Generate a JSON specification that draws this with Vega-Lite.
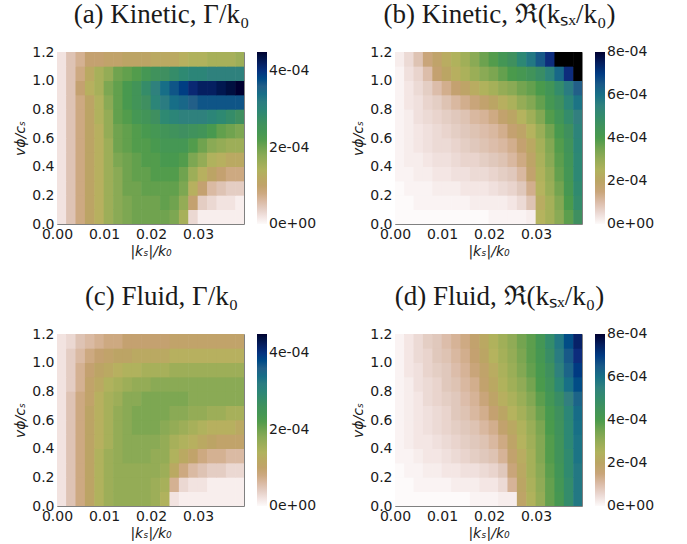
{"$schema":"https://vega.github.io/schema/vega-lite/v6.json","padding":{"left":13,"top":0,"right":0,"bottom":0},"background":"white","spacing":23,"resolve":{"scale":{"color":"independent"},"legend":{"color":"independent"}},
"config":{"view":{"stroke":"#808080","strokeWidth":1},"axis":{"grid":false,"domain":false,"ticks":false,"labelFont":"DejaVu Sans","labelFontSize":14,"labelColor":"#1a1a1a","titleFont":"DejaVu Sans","titleFontSize":14,"titleFontWeight":"normal","titleFontStyle":"italic","titleColor":"#1a1a1a","labelOverlap":false,"labelFlush":false},"legend":{"labelFont":"DejaVu Sans","labelFontSize":14,"labelColor":"#1a1a1a"},"title":{"font":"Liberation Serif","fontSize":27,"fontWeight":"normal","color":"#1a1a1a","anchor":"middle","dx":11,"offset":16}},
"datasets":{
"a":[
{"x":0.001,"y":0.05,"z":2e-5},{"x":0.003,"y":0.05,"z":5e-5},{"x":0.005,"y":0.05,"z":8e-5},{"x":0.007,"y":0.05,"z":11e-5},{"x":0.009,"y":0.05,"z":13e-5},{"x":0.011,"y":0.05,"z":16e-5},{"x":0.013,"y":0.05,"z":18e-5},{"x":0.015,"y":0.05,"z":19e-5},{"x":0.017,"y":0.05,"z":20e-5},{"x":0.019,"y":0.05,"z":20e-5},{"x":0.021,"y":0.05,"z":20e-5},{"x":0.023,"y":0.05,"z":20e-5},{"x":0.025,"y":0.05,"z":19e-5},{"x":0.027,"y":0.05,"z":15e-5},{"x":0.029,"y":0.05,"z":3e-5},{"x":0.031,"y":0.05,"z":1e-5},{"x":0.033,"y":0.05,"z":1e-5},{"x":0.035,"y":0.05,"z":1e-5},{"x":0.037,"y":0.05,"z":1e-5},{"x":0.039,"y":0.05,"z":1e-5},
{"x":0.001,"y":0.15,"z":2e-5},{"x":0.003,"y":0.15,"z":5e-5},{"x":0.005,"y":0.15,"z":8e-5},{"x":0.007,"y":0.15,"z":11e-5},{"x":0.009,"y":0.15,"z":13e-5},{"x":0.011,"y":0.15,"z":16e-5},{"x":0.013,"y":0.15,"z":18e-5},{"x":0.015,"y":0.15,"z":19e-5},{"x":0.017,"y":0.15,"z":20e-5},{"x":0.019,"y":0.15,"z":20e-5},{"x":0.021,"y":0.15,"z":20e-5},{"x":0.023,"y":0.15,"z":21e-5},{"x":0.025,"y":0.15,"z":20e-5},{"x":0.027,"y":0.15,"z":17e-5},{"x":0.029,"y":0.15,"z":9e-5},{"x":0.031,"y":0.15,"z":4e-5},{"x":0.033,"y":0.15,"z":3e-5},{"x":0.035,"y":0.15,"z":2e-5},{"x":0.037,"y":0.15,"z":2e-5},{"x":0.039,"y":0.15,"z":1e-5},
{"x":0.001,"y":0.25,"z":2e-5},{"x":0.003,"y":0.25,"z":5e-5},{"x":0.005,"y":0.25,"z":8e-5},{"x":0.007,"y":0.25,"z":11e-5},{"x":0.009,"y":0.25,"z":13e-5},{"x":0.011,"y":0.25,"z":16e-5},{"x":0.013,"y":0.25,"z":18e-5},{"x":0.015,"y":0.25,"z":20e-5},{"x":0.017,"y":0.25,"z":20e-5},{"x":0.019,"y":0.25,"z":21e-5},{"x":0.021,"y":0.25,"z":21e-5},{"x":0.023,"y":0.25,"z":21e-5},{"x":0.025,"y":0.25,"z":21e-5},{"x":0.027,"y":0.25,"z":19e-5},{"x":0.029,"y":0.25,"z":13e-5},{"x":0.031,"y":0.25,"z":9e-5},{"x":0.033,"y":0.25,"z":6e-5},{"x":0.035,"y":0.25,"z":5e-5},{"x":0.037,"y":0.25,"z":4e-5},{"x":0.039,"y":0.25,"z":4e-5},
{"x":0.001,"y":0.35,"z":2e-5},{"x":0.003,"y":0.35,"z":5e-5},{"x":0.005,"y":0.35,"z":8e-5},{"x":0.007,"y":0.35,"z":11e-5},{"x":0.009,"y":0.35,"z":13e-5},{"x":0.011,"y":0.35,"z":16e-5},{"x":0.013,"y":0.35,"z":18e-5},{"x":0.015,"y":0.35,"z":20e-5},{"x":0.017,"y":0.35,"z":21e-5},{"x":0.019,"y":0.35,"z":21e-5},{"x":0.021,"y":0.35,"z":22e-5},{"x":0.023,"y":0.35,"z":22e-5},{"x":0.025,"y":0.35,"z":22e-5},{"x":0.027,"y":0.35,"z":20e-5},{"x":0.029,"y":0.35,"z":16e-5},{"x":0.031,"y":0.35,"z":13e-5},{"x":0.033,"y":0.35,"z":11e-5},{"x":0.035,"y":0.35,"z":9e-5},{"x":0.037,"y":0.35,"z":8e-5},{"x":0.039,"y":0.35,"z":8e-5},
{"x":0.001,"y":0.45,"z":2e-5},{"x":0.003,"y":0.45,"z":5e-5},{"x":0.005,"y":0.45,"z":8e-5},{"x":0.007,"y":0.45,"z":11e-5},{"x":0.009,"y":0.45,"z":13e-5},{"x":0.011,"y":0.45,"z":16e-5},{"x":0.013,"y":0.45,"z":19e-5},{"x":0.015,"y":0.45,"z":20e-5},{"x":0.017,"y":0.45,"z":21e-5},{"x":0.019,"y":0.45,"z":22e-5},{"x":0.021,"y":0.45,"z":22e-5},{"x":0.023,"y":0.45,"z":23e-5},{"x":0.025,"y":0.45,"z":23e-5},{"x":0.027,"y":0.45,"z":22e-5},{"x":0.029,"y":0.45,"z":19e-5},{"x":0.031,"y":0.45,"z":17e-5},{"x":0.033,"y":0.45,"z":14e-5},{"x":0.035,"y":0.45,"z":13e-5},{"x":0.037,"y":0.45,"z":12e-5},{"x":0.039,"y":0.45,"z":12e-5},
{"x":0.001,"y":0.55,"z":2e-5},{"x":0.003,"y":0.55,"z":5e-5},{"x":0.005,"y":0.55,"z":8e-5},{"x":0.007,"y":0.55,"z":11e-5},{"x":0.009,"y":0.55,"z":13e-5},{"x":0.011,"y":0.55,"z":16e-5},{"x":0.013,"y":0.55,"z":20e-5},{"x":0.015,"y":0.55,"z":21e-5},{"x":0.017,"y":0.55,"z":22e-5},{"x":0.019,"y":0.55,"z":22e-5},{"x":0.021,"y":0.55,"z":23e-5},{"x":0.023,"y":0.55,"z":24e-5},{"x":0.025,"y":0.55,"z":24e-5},{"x":0.027,"y":0.55,"z":24e-5},{"x":0.029,"y":0.55,"z":22e-5},{"x":0.031,"y":0.55,"z":20e-5},{"x":0.033,"y":0.55,"z":18e-5},{"x":0.035,"y":0.55,"z":17e-5},{"x":0.037,"y":0.55,"z":16e-5},{"x":0.039,"y":0.55,"z":16e-5},
{"x":0.001,"y":0.65,"z":2e-5},{"x":0.003,"y":0.65,"z":5e-5},{"x":0.005,"y":0.65,"z":8e-5},{"x":0.007,"y":0.65,"z":11e-5},{"x":0.009,"y":0.65,"z":13e-5},{"x":0.011,"y":0.65,"z":17e-5},{"x":0.013,"y":0.65,"z":20e-5},{"x":0.015,"y":0.65,"z":21e-5},{"x":0.017,"y":0.65,"z":22e-5},{"x":0.019,"y":0.65,"z":23e-5},{"x":0.021,"y":0.65,"z":24e-5},{"x":0.023,"y":0.65,"z":25e-5},{"x":0.025,"y":0.65,"z":26e-5},{"x":0.027,"y":0.65,"z":27e-5},{"x":0.029,"y":0.65,"z":26e-5},{"x":0.031,"y":0.65,"z":25e-5},{"x":0.033,"y":0.65,"z":23e-5},{"x":0.035,"y":0.65,"z":21e-5},{"x":0.037,"y":0.65,"z":20e-5},{"x":0.039,"y":0.65,"z":19e-5},
{"x":0.001,"y":0.75,"z":2e-5},{"x":0.003,"y":0.75,"z":5e-5},{"x":0.005,"y":0.75,"z":8e-5},{"x":0.007,"y":0.75,"z":11e-5},{"x":0.009,"y":0.75,"z":14e-5},{"x":0.011,"y":0.75,"z":17e-5},{"x":0.013,"y":0.75,"z":21e-5},{"x":0.015,"y":0.75,"z":22e-5},{"x":0.017,"y":0.75,"z":24e-5},{"x":0.019,"y":0.75,"z":25e-5},{"x":0.021,"y":0.75,"z":27e-5},{"x":0.023,"y":0.75,"z":29e-5},{"x":0.025,"y":0.75,"z":30e-5},{"x":0.027,"y":0.75,"z":31e-5},{"x":0.029,"y":0.75,"z":31e-5},{"x":0.031,"y":0.75,"z":31e-5},{"x":0.033,"y":0.75,"z":30e-5},{"x":0.035,"y":0.75,"z":29e-5},{"x":0.037,"y":0.75,"z":28e-5},{"x":0.039,"y":0.75,"z":27e-5},
{"x":0.001,"y":0.85,"z":2e-5},{"x":0.003,"y":0.85,"z":5e-5},{"x":0.005,"y":0.85,"z":8e-5},{"x":0.007,"y":0.85,"z":11e-5},{"x":0.009,"y":0.85,"z":14e-5},{"x":0.011,"y":0.85,"z":18e-5},{"x":0.013,"y":0.85,"z":21e-5},{"x":0.015,"y":0.85,"z":23e-5},{"x":0.017,"y":0.85,"z":25e-5},{"x":0.019,"y":0.85,"z":27e-5},{"x":0.021,"y":0.85,"z":30e-5},{"x":0.023,"y":0.85,"z":32e-5},{"x":0.025,"y":0.85,"z":34e-5},{"x":0.027,"y":0.85,"z":35e-5},{"x":0.029,"y":0.85,"z":36e-5},{"x":0.031,"y":0.85,"z":37e-5},{"x":0.033,"y":0.85,"z":37e-5},{"x":0.035,"y":0.85,"z":37e-5},{"x":0.037,"y":0.85,"z":37e-5},{"x":0.039,"y":0.85,"z":37e-5},
{"x":0.001,"y":0.95,"z":2e-5},{"x":0.003,"y":0.95,"z":5e-5},{"x":0.005,"y":0.95,"z":9e-5},{"x":0.007,"y":0.95,"z":13e-5},{"x":0.009,"y":0.95,"z":15e-5},{"x":0.011,"y":0.95,"z":19e-5},{"x":0.013,"y":0.95,"z":21e-5},{"x":0.015,"y":0.95,"z":23e-5},{"x":0.017,"y":0.95,"z":25e-5},{"x":0.019,"y":0.95,"z":28e-5},{"x":0.021,"y":0.95,"z":31e-5},{"x":0.023,"y":0.95,"z":34e-5},{"x":0.025,"y":0.95,"z":37e-5},{"x":0.027,"y":0.95,"z":39e-5},{"x":0.029,"y":0.95,"z":41e-5},{"x":0.031,"y":0.95,"z":42e-5},{"x":0.033,"y":0.95,"z":42e-5},{"x":0.035,"y":0.95,"z":43e-5},{"x":0.037,"y":0.95,"z":44e-5},{"x":0.039,"y":0.95,"z":45e-5},
{"x":0.001,"y":1.05,"z":2e-5},{"x":0.003,"y":1.05,"z":5e-5},{"x":0.005,"y":1.05,"z":8e-5},{"x":0.007,"y":1.05,"z":12e-5},{"x":0.009,"y":1.05,"z":15e-5},{"x":0.011,"y":1.05,"z":17e-5},{"x":0.013,"y":1.05,"z":20e-5},{"x":0.015,"y":1.05,"z":21e-5},{"x":0.017,"y":1.05,"z":22e-5},{"x":0.019,"y":1.05,"z":24e-5},{"x":0.021,"y":1.05,"z":26e-5},{"x":0.023,"y":1.05,"z":27e-5},{"x":0.025,"y":1.05,"z":28e-5},{"x":0.027,"y":1.05,"z":29e-5},{"x":0.029,"y":1.05,"z":30e-5},{"x":0.031,"y":1.05,"z":30e-5},{"x":0.033,"y":1.05,"z":31e-5},{"x":0.035,"y":1.05,"z":31e-5},{"x":0.037,"y":1.05,"z":31e-5},{"x":0.039,"y":1.05,"z":31e-5},
{"x":0.001,"y":1.15,"z":2e-5},{"x":0.003,"y":1.15,"z":5e-5},{"x":0.005,"y":1.15,"z":7e-5},{"x":0.007,"y":1.15,"z":9e-5},{"x":0.009,"y":1.15,"z":9e-5},{"x":0.011,"y":1.15,"z":10e-5},{"x":0.013,"y":1.15,"z":10e-5},{"x":0.015,"y":1.15,"z":11e-5},{"x":0.017,"y":1.15,"z":11e-5},{"x":0.019,"y":1.15,"z":11e-5},{"x":0.021,"y":1.15,"z":12e-5},{"x":0.023,"y":1.15,"z":12e-5},{"x":0.025,"y":1.15,"z":12e-5},{"x":0.027,"y":1.15,"z":13e-5},{"x":0.029,"y":1.15,"z":14e-5},{"x":0.031,"y":1.15,"z":14e-5},{"x":0.033,"y":1.15,"z":15e-5},{"x":0.035,"y":1.15,"z":15e-5},{"x":0.037,"y":1.15,"z":15e-5},{"x":0.039,"y":1.15,"z":16e-5}
],
"b":[
{"x":0.001,"y":0.05,"z":0},{"x":0.003,"y":0.05,"z":0},{"x":0.005,"y":0.05,"z":0},{"x":0.007,"y":0.05,"z":0},{"x":0.009,"y":0.05,"z":0},{"x":0.011,"y":0.05,"z":0},{"x":0.013,"y":0.05,"z":0},{"x":0.015,"y":0.05,"z":0},{"x":0.017,"y":0.05,"z":0},{"x":0.019,"y":0.05,"z":0},{"x":0.021,"y":0.05,"z":1e-5},{"x":0.023,"y":0.05,"z":1e-5},{"x":0.025,"y":0.05,"z":1e-5},{"x":0.027,"y":0.05,"z":1e-5},{"x":0.029,"y":0.05,"z":2e-5},{"x":0.031,"y":0.05,"z":24e-5},{"x":0.033,"y":0.05,"z":27e-5},{"x":0.035,"y":0.05,"z":32e-5},{"x":0.037,"y":0.05,"z":38e-5},{"x":0.039,"y":0.05,"z":48e-5},
{"x":0.001,"y":0.15,"z":0},{"x":0.003,"y":0.15,"z":0},{"x":0.005,"y":0.15,"z":1e-5},{"x":0.007,"y":0.15,"z":1e-5},{"x":0.009,"y":0.15,"z":1e-5},{"x":0.011,"y":0.15,"z":1e-5},{"x":0.013,"y":0.15,"z":1e-5},{"x":0.015,"y":0.15,"z":1e-5},{"x":0.017,"y":0.15,"z":2e-5},{"x":0.019,"y":0.15,"z":2e-5},{"x":0.021,"y":0.15,"z":2e-5},{"x":0.023,"y":0.15,"z":2e-5},{"x":0.025,"y":0.15,"z":3e-5},{"x":0.027,"y":0.15,"z":5e-5},{"x":0.029,"y":0.15,"z":9e-5},{"x":0.031,"y":0.15,"z":22e-5},{"x":0.033,"y":0.15,"z":27e-5},{"x":0.035,"y":0.15,"z":33e-5},{"x":0.037,"y":0.15,"z":40e-5},{"x":0.039,"y":0.15,"z":50e-5},
{"x":0.001,"y":0.25,"z":0},{"x":0.003,"y":0.25,"z":1e-5},{"x":0.005,"y":0.25,"z":1e-5},{"x":0.007,"y":0.25,"z":1e-5},{"x":0.009,"y":0.25,"z":2e-5},{"x":0.011,"y":0.25,"z":2e-5},{"x":0.013,"y":0.25,"z":2e-5},{"x":0.015,"y":0.25,"z":3e-5},{"x":0.017,"y":0.25,"z":3e-5},{"x":0.019,"y":0.25,"z":3e-5},{"x":0.021,"y":0.25,"z":4e-5},{"x":0.023,"y":0.25,"z":5e-5},{"x":0.025,"y":0.25,"z":6e-5},{"x":0.027,"y":0.25,"z":8e-5},{"x":0.029,"y":0.25,"z":13e-5},{"x":0.031,"y":0.25,"z":24e-5},{"x":0.033,"y":0.25,"z":29e-5},{"x":0.035,"y":0.25,"z":35e-5},{"x":0.037,"y":0.25,"z":42e-5},{"x":0.039,"y":0.25,"z":51e-5},
{"x":0.001,"y":0.35,"z":1e-5},{"x":0.003,"y":0.35,"z":1e-5},{"x":0.005,"y":0.35,"z":2e-5},{"x":0.007,"y":0.35,"z":2e-5},{"x":0.009,"y":0.35,"z":3e-5},{"x":0.011,"y":0.35,"z":3e-5},{"x":0.013,"y":0.35,"z":4e-5},{"x":0.015,"y":0.35,"z":4e-5},{"x":0.017,"y":0.35,"z":5e-5},{"x":0.019,"y":0.35,"z":5e-5},{"x":0.021,"y":0.35,"z":6e-5},{"x":0.023,"y":0.35,"z":7e-5},{"x":0.025,"y":0.35,"z":8e-5},{"x":0.027,"y":0.35,"z":11e-5},{"x":0.029,"y":0.35,"z":17e-5},{"x":0.031,"y":0.35,"z":25e-5},{"x":0.033,"y":0.35,"z":30e-5},{"x":0.035,"y":0.35,"z":37e-5},{"x":0.037,"y":0.35,"z":43e-5},{"x":0.039,"y":0.35,"z":52e-5},
{"x":0.001,"y":0.45,"z":1e-5},{"x":0.003,"y":0.45,"z":2e-5},{"x":0.005,"y":0.45,"z":2e-5},{"x":0.007,"y":0.45,"z":3e-5},{"x":0.009,"y":0.45,"z":4e-5},{"x":0.011,"y":0.45,"z":4e-5},{"x":0.013,"y":0.45,"z":5e-5},{"x":0.015,"y":0.45,"z":6e-5},{"x":0.017,"y":0.45,"z":6e-5},{"x":0.019,"y":0.45,"z":7e-5},{"x":0.021,"y":0.45,"z":8e-5},{"x":0.023,"y":0.45,"z":9e-5},{"x":0.025,"y":0.45,"z":11e-5},{"x":0.027,"y":0.45,"z":14e-5},{"x":0.029,"y":0.45,"z":19e-5},{"x":0.031,"y":0.45,"z":26e-5},{"x":0.033,"y":0.45,"z":32e-5},{"x":0.035,"y":0.45,"z":38e-5},{"x":0.037,"y":0.45,"z":44e-5},{"x":0.039,"y":0.45,"z":52e-5},
{"x":0.001,"y":0.55,"z":1e-5},{"x":0.003,"y":0.55,"z":2e-5},{"x":0.005,"y":0.55,"z":3e-5},{"x":0.007,"y":0.55,"z":4e-5},{"x":0.009,"y":0.55,"z":5e-5},{"x":0.011,"y":0.55,"z":5e-5},{"x":0.013,"y":0.55,"z":6e-5},{"x":0.015,"y":0.55,"z":7e-5},{"x":0.017,"y":0.55,"z":8e-5},{"x":0.019,"y":0.55,"z":9e-5},{"x":0.021,"y":0.55,"z":10e-5},{"x":0.023,"y":0.55,"z":11e-5},{"x":0.025,"y":0.55,"z":13e-5},{"x":0.027,"y":0.55,"z":16e-5},{"x":0.029,"y":0.55,"z":21e-5},{"x":0.031,"y":0.55,"z":27e-5},{"x":0.033,"y":0.55,"z":33e-5},{"x":0.035,"y":0.55,"z":39e-5},{"x":0.037,"y":0.55,"z":45e-5},{"x":0.039,"y":0.55,"z":53e-5},
{"x":0.001,"y":0.65,"z":1e-5},{"x":0.003,"y":0.65,"z":2e-5},{"x":0.005,"y":0.65,"z":3e-5},{"x":0.007,"y":0.65,"z":4e-5},{"x":0.009,"y":0.65,"z":5e-5},{"x":0.011,"y":0.65,"z":6e-5},{"x":0.013,"y":0.65,"z":7e-5},{"x":0.015,"y":0.65,"z":8e-5},{"x":0.017,"y":0.65,"z":9e-5},{"x":0.019,"y":0.65,"z":10e-5},{"x":0.021,"y":0.65,"z":11e-5},{"x":0.023,"y":0.65,"z":13e-5},{"x":0.025,"y":0.65,"z":16e-5},{"x":0.027,"y":0.65,"z":19e-5},{"x":0.029,"y":0.65,"z":24e-5},{"x":0.031,"y":0.65,"z":29e-5},{"x":0.033,"y":0.65,"z":35e-5},{"x":0.035,"y":0.65,"z":41e-5},{"x":0.037,"y":0.65,"z":47e-5},{"x":0.039,"y":0.65,"z":54e-5},
{"x":0.001,"y":0.75,"z":1e-5},{"x":0.003,"y":0.75,"z":2e-5},{"x":0.005,"y":0.75,"z":4e-5},{"x":0.007,"y":0.75,"z":5e-5},{"x":0.009,"y":0.75,"z":6e-5},{"x":0.011,"y":0.75,"z":7e-5},{"x":0.013,"y":0.75,"z":8e-5},{"x":0.015,"y":0.75,"z":9e-5},{"x":0.017,"y":0.75,"z":11e-5},{"x":0.019,"y":0.75,"z":12e-5},{"x":0.021,"y":0.75,"z":14e-5},{"x":0.023,"y":0.75,"z":17e-5},{"x":0.025,"y":0.75,"z":20e-5},{"x":0.027,"y":0.75,"z":24e-5},{"x":0.029,"y":0.75,"z":28e-5},{"x":0.031,"y":0.75,"z":33e-5},{"x":0.033,"y":0.75,"z":39e-5},{"x":0.035,"y":0.75,"z":44e-5},{"x":0.037,"y":0.75,"z":50e-5},{"x":0.039,"y":0.75,"z":56e-5},
{"x":0.001,"y":0.85,"z":1e-5},{"x":0.003,"y":0.85,"z":3e-5},{"x":0.005,"y":0.85,"z":4e-5},{"x":0.007,"y":0.85,"z":6e-5},{"x":0.009,"y":0.85,"z":7e-5},{"x":0.011,"y":0.85,"z":9e-5},{"x":0.013,"y":0.85,"z":11e-5},{"x":0.015,"y":0.85,"z":13e-5},{"x":0.017,"y":0.85,"z":15e-5},{"x":0.019,"y":0.85,"z":17e-5},{"x":0.021,"y":0.85,"z":20e-5},{"x":0.023,"y":0.85,"z":23e-5},{"x":0.025,"y":0.85,"z":26e-5},{"x":0.027,"y":0.85,"z":30e-5},{"x":0.029,"y":0.85,"z":33e-5},{"x":0.031,"y":0.85,"z":37e-5},{"x":0.033,"y":0.85,"z":42e-5},{"x":0.035,"y":0.85,"z":47e-5},{"x":0.037,"y":0.85,"z":53e-5},{"x":0.039,"y":0.85,"z":59e-5},
{"x":0.001,"y":0.95,"z":1e-5},{"x":0.003,"y":0.95,"z":3e-5},{"x":0.005,"y":0.95,"z":5e-5},{"x":0.007,"y":0.95,"z":7e-5},{"x":0.009,"y":0.95,"z":10e-5},{"x":0.011,"y":0.95,"z":13e-5},{"x":0.013,"y":0.95,"z":16e-5},{"x":0.015,"y":0.95,"z":19e-5},{"x":0.017,"y":0.95,"z":22e-5},{"x":0.019,"y":0.95,"z":25e-5},{"x":0.021,"y":0.95,"z":27e-5},{"x":0.023,"y":0.95,"z":30e-5},{"x":0.025,"y":0.95,"z":32e-5},{"x":0.027,"y":0.95,"z":35e-5},{"x":0.029,"y":0.95,"z":37e-5},{"x":0.031,"y":0.95,"z":40e-5},{"x":0.033,"y":0.95,"z":44e-5},{"x":0.035,"y":0.95,"z":50e-5},{"x":0.037,"y":0.95,"z":57e-5},{"x":0.039,"y":0.95,"z":64e-5},
{"x":0.001,"y":1.05,"z":1e-5},{"x":0.003,"y":1.05,"z":4e-5},{"x":0.005,"y":1.05,"z":6e-5},{"x":0.007,"y":1.05,"z":10e-5},{"x":0.009,"y":1.05,"z":16e-5},{"x":0.011,"y":1.05,"z":20e-5},{"x":0.013,"y":1.05,"z":23e-5},{"x":0.015,"y":1.05,"z":26e-5},{"x":0.017,"y":1.05,"z":29e-5},{"x":0.019,"y":1.05,"z":32e-5},{"x":0.021,"y":1.05,"z":34e-5},{"x":0.023,"y":1.05,"z":37e-5},{"x":0.025,"y":1.05,"z":40e-5},{"x":0.027,"y":1.05,"z":42e-5},{"x":0.029,"y":1.05,"z":45e-5},{"x":0.031,"y":1.05,"z":49e-5},{"x":0.033,"y":1.05,"z":54e-5},{"x":0.035,"y":1.05,"z":62e-5},{"x":0.037,"y":1.05,"z":72e-5},{"x":0.039,"y":1.05,"z":83e-5},
{"x":0.001,"y":1.15,"z":2e-5},{"x":0.003,"y":1.15,"z":5e-5},{"x":0.005,"y":1.15,"z":9e-5},{"x":0.007,"y":1.15,"z":15e-5},{"x":0.009,"y":1.15,"z":18e-5},{"x":0.011,"y":1.15,"z":22e-5},{"x":0.013,"y":1.15,"z":25e-5},{"x":0.015,"y":1.15,"z":28e-5},{"x":0.017,"y":1.15,"z":32e-5},{"x":0.019,"y":1.15,"z":36e-5},{"x":0.021,"y":1.15,"z":39e-5},{"x":0.023,"y":1.15,"z":43e-5},{"x":0.025,"y":1.15,"z":47e-5},{"x":0.027,"y":1.15,"z":52e-5},{"x":0.029,"y":1.15,"z":58e-5},{"x":0.031,"y":1.15,"z":65e-5},{"x":0.033,"y":1.15,"z":72e-5},{"x":0.035,"y":1.15,"z":85e-5},{"x":0.037,"y":1.15,"z":90e-5},{"x":0.039,"y":1.15,"z":90e-5}
],
"c":[
{"x":0.001,"y":0.05,"z":2e-5},{"x":0.003,"y":0.05,"z":5e-5},{"x":0.005,"y":0.05,"z":8e-5},{"x":0.007,"y":0.05,"z":11e-5},{"x":0.009,"y":0.05,"z":14e-5},{"x":0.011,"y":0.05,"z":16e-5},{"x":0.013,"y":0.05,"z":17e-5},{"x":0.015,"y":0.05,"z":17e-5},{"x":0.017,"y":0.05,"z":17e-5},{"x":0.019,"y":0.05,"z":17e-5},{"x":0.021,"y":0.05,"z":16e-5},{"x":0.023,"y":0.05,"z":14e-5},{"x":0.025,"y":0.05,"z":2e-5},{"x":0.027,"y":0.05,"z":1e-5},{"x":0.029,"y":0.05,"z":1e-5},{"x":0.031,"y":0.05,"z":1e-5},{"x":0.033,"y":0.05,"z":1e-5},{"x":0.035,"y":0.05,"z":1e-5},{"x":0.037,"y":0.05,"z":1e-5},{"x":0.039,"y":0.05,"z":1e-5},
{"x":0.001,"y":0.15,"z":2e-5},{"x":0.003,"y":0.15,"z":5e-5},{"x":0.005,"y":0.15,"z":8e-5},{"x":0.007,"y":0.15,"z":11e-5},{"x":0.009,"y":0.15,"z":14e-5},{"x":0.011,"y":0.15,"z":16e-5},{"x":0.013,"y":0.15,"z":17e-5},{"x":0.015,"y":0.15,"z":17e-5},{"x":0.017,"y":0.15,"z":17e-5},{"x":0.019,"y":0.15,"z":17e-5},{"x":0.021,"y":0.15,"z":16e-5},{"x":0.023,"y":0.15,"z":15e-5},{"x":0.025,"y":0.15,"z":7e-5},{"x":0.027,"y":0.15,"z":3e-5},{"x":0.029,"y":0.15,"z":2e-5},{"x":0.031,"y":0.15,"z":2e-5},{"x":0.033,"y":0.15,"z":1e-5},{"x":0.035,"y":0.15,"z":1e-5},{"x":0.037,"y":0.15,"z":1e-5},{"x":0.039,"y":0.15,"z":1e-5},
{"x":0.001,"y":0.25,"z":2e-5},{"x":0.003,"y":0.25,"z":5e-5},{"x":0.005,"y":0.25,"z":8e-5},{"x":0.007,"y":0.25,"z":11e-5},{"x":0.009,"y":0.25,"z":14e-5},{"x":0.011,"y":0.25,"z":16e-5},{"x":0.013,"y":0.25,"z":17e-5},{"x":0.015,"y":0.25,"z":17e-5},{"x":0.017,"y":0.25,"z":17e-5},{"x":0.019,"y":0.25,"z":17e-5},{"x":0.021,"y":0.25,"z":17e-5},{"x":0.023,"y":0.25,"z":16e-5},{"x":0.025,"y":0.25,"z":12e-5},{"x":0.027,"y":0.25,"z":8e-5},{"x":0.029,"y":0.25,"z":6e-5},{"x":0.031,"y":0.25,"z":5e-5},{"x":0.033,"y":0.25,"z":4e-5},{"x":0.035,"y":0.25,"z":4e-5},{"x":0.037,"y":0.25,"z":3e-5},{"x":0.039,"y":0.25,"z":3e-5},
{"x":0.001,"y":0.35,"z":2e-5},{"x":0.003,"y":0.35,"z":5e-5},{"x":0.005,"y":0.35,"z":8e-5},{"x":0.007,"y":0.35,"z":11e-5},{"x":0.009,"y":0.35,"z":14e-5},{"x":0.011,"y":0.35,"z":16e-5},{"x":0.013,"y":0.35,"z":17e-5},{"x":0.015,"y":0.35,"z":18e-5},{"x":0.017,"y":0.35,"z":18e-5},{"x":0.019,"y":0.35,"z":18e-5},{"x":0.021,"y":0.35,"z":17e-5},{"x":0.023,"y":0.35,"z":17e-5},{"x":0.025,"y":0.35,"z":14e-5},{"x":0.027,"y":0.35,"z":12e-5},{"x":0.029,"y":0.35,"z":10e-5},{"x":0.031,"y":0.35,"z":8e-5},{"x":0.033,"y":0.35,"z":7e-5},{"x":0.035,"y":0.35,"z":7e-5},{"x":0.037,"y":0.35,"z":6e-5},{"x":0.039,"y":0.35,"z":6e-5},
{"x":0.001,"y":0.45,"z":2e-5},{"x":0.003,"y":0.45,"z":5e-5},{"x":0.005,"y":0.45,"z":8e-5},{"x":0.007,"y":0.45,"z":11e-5},{"x":0.009,"y":0.45,"z":13e-5},{"x":0.011,"y":0.45,"z":15e-5},{"x":0.013,"y":0.45,"z":17e-5},{"x":0.015,"y":0.45,"z":18e-5},{"x":0.017,"y":0.45,"z":18e-5},{"x":0.019,"y":0.45,"z":18e-5},{"x":0.021,"y":0.45,"z":18e-5},{"x":0.023,"y":0.45,"z":17e-5},{"x":0.025,"y":0.45,"z":15e-5},{"x":0.027,"y":0.45,"z":14e-5},{"x":0.029,"y":0.45,"z":13e-5},{"x":0.031,"y":0.45,"z":12e-5},{"x":0.033,"y":0.45,"z":11e-5},{"x":0.035,"y":0.45,"z":10e-5},{"x":0.037,"y":0.45,"z":10e-5},{"x":0.039,"y":0.45,"z":10e-5},
{"x":0.001,"y":0.55,"z":2e-5},{"x":0.003,"y":0.55,"z":5e-5},{"x":0.005,"y":0.55,"z":8e-5},{"x":0.007,"y":0.55,"z":11e-5},{"x":0.009,"y":0.55,"z":13e-5},{"x":0.011,"y":0.55,"z":15e-5},{"x":0.013,"y":0.55,"z":17e-5},{"x":0.015,"y":0.55,"z":18e-5},{"x":0.017,"y":0.55,"z":19e-5},{"x":0.019,"y":0.55,"z":19e-5},{"x":0.021,"y":0.55,"z":19e-5},{"x":0.023,"y":0.55,"z":18e-5},{"x":0.025,"y":0.55,"z":17e-5},{"x":0.027,"y":0.55,"z":16e-5},{"x":0.029,"y":0.55,"z":15e-5},{"x":0.031,"y":0.55,"z":14e-5},{"x":0.033,"y":0.55,"z":13e-5},{"x":0.035,"y":0.55,"z":13e-5},{"x":0.037,"y":0.55,"z":13e-5},{"x":0.039,"y":0.55,"z":12e-5},
{"x":0.001,"y":0.65,"z":2e-5},{"x":0.003,"y":0.65,"z":5e-5},{"x":0.005,"y":0.65,"z":8e-5},{"x":0.007,"y":0.65,"z":11e-5},{"x":0.009,"y":0.65,"z":13e-5},{"x":0.011,"y":0.65,"z":15e-5},{"x":0.013,"y":0.65,"z":17e-5},{"x":0.015,"y":0.65,"z":18e-5},{"x":0.017,"y":0.65,"z":19e-5},{"x":0.019,"y":0.65,"z":19e-5},{"x":0.021,"y":0.65,"z":19e-5},{"x":0.023,"y":0.65,"z":19e-5},{"x":0.025,"y":0.65,"z":18e-5},{"x":0.027,"y":0.65,"z":18e-5},{"x":0.029,"y":0.65,"z":17e-5},{"x":0.031,"y":0.65,"z":17e-5},{"x":0.033,"y":0.65,"z":16e-5},{"x":0.035,"y":0.65,"z":16e-5},{"x":0.037,"y":0.65,"z":15e-5},{"x":0.039,"y":0.65,"z":15e-5},
{"x":0.001,"y":0.75,"z":2e-5},{"x":0.003,"y":0.75,"z":5e-5},{"x":0.005,"y":0.75,"z":8e-5},{"x":0.007,"y":0.75,"z":10e-5},{"x":0.009,"y":0.75,"z":13e-5},{"x":0.011,"y":0.75,"z":15e-5},{"x":0.013,"y":0.75,"z":16e-5},{"x":0.015,"y":0.75,"z":18e-5},{"x":0.017,"y":0.75,"z":18e-5},{"x":0.019,"y":0.75,"z":19e-5},{"x":0.021,"y":0.75,"z":19e-5},{"x":0.023,"y":0.75,"z":19e-5},{"x":0.025,"y":0.75,"z":19e-5},{"x":0.027,"y":0.75,"z":19e-5},{"x":0.029,"y":0.75,"z":18e-5},{"x":0.031,"y":0.75,"z":18e-5},{"x":0.033,"y":0.75,"z":18e-5},{"x":0.035,"y":0.75,"z":18e-5},{"x":0.037,"y":0.75,"z":18e-5},{"x":0.039,"y":0.75,"z":18e-5},
{"x":0.001,"y":0.85,"z":2e-5},{"x":0.003,"y":0.85,"z":4e-5},{"x":0.005,"y":0.85,"z":7e-5},{"x":0.007,"y":0.85,"z":10e-5},{"x":0.009,"y":0.85,"z":12e-5},{"x":0.011,"y":0.85,"z":14e-5},{"x":0.013,"y":0.85,"z":15e-5},{"x":0.015,"y":0.85,"z":16e-5},{"x":0.017,"y":0.85,"z":17e-5},{"x":0.019,"y":0.85,"z":17e-5},{"x":0.021,"y":0.85,"z":18e-5},{"x":0.023,"y":0.85,"z":18e-5},{"x":0.025,"y":0.85,"z":18e-5},{"x":0.027,"y":0.85,"z":18e-5},{"x":0.029,"y":0.85,"z":18e-5},{"x":0.031,"y":0.85,"z":18e-5},{"x":0.033,"y":0.85,"z":18e-5},{"x":0.035,"y":0.85,"z":18e-5},{"x":0.037,"y":0.85,"z":18e-5},{"x":0.039,"y":0.85,"z":18e-5},
{"x":0.001,"y":0.95,"z":2e-5},{"x":0.003,"y":0.95,"z":4e-5},{"x":0.005,"y":0.95,"z":7e-5},{"x":0.007,"y":0.95,"z":9e-5},{"x":0.009,"y":0.95,"z":11e-5},{"x":0.011,"y":0.95,"z":12e-5},{"x":0.013,"y":0.95,"z":13e-5},{"x":0.015,"y":0.95,"z":14e-5},{"x":0.017,"y":0.95,"z":14e-5},{"x":0.019,"y":0.95,"z":15e-5},{"x":0.021,"y":0.95,"z":15e-5},{"x":0.023,"y":0.95,"z":15e-5},{"x":0.025,"y":0.95,"z":16e-5},{"x":0.027,"y":0.95,"z":16e-5},{"x":0.029,"y":0.95,"z":16e-5},{"x":0.031,"y":0.95,"z":16e-5},{"x":0.033,"y":0.95,"z":16e-5},{"x":0.035,"y":0.95,"z":16e-5},{"x":0.037,"y":0.95,"z":16e-5},{"x":0.039,"y":0.95,"z":16e-5},
{"x":0.001,"y":1.05,"z":2e-5},{"x":0.003,"y":1.05,"z":4e-5},{"x":0.005,"y":1.05,"z":6e-5},{"x":0.007,"y":1.05,"z":8e-5},{"x":0.009,"y":1.05,"z":9e-5},{"x":0.011,"y":1.05,"z":10e-5},{"x":0.013,"y":1.05,"z":11e-5},{"x":0.015,"y":1.05,"z":11e-5},{"x":0.017,"y":1.05,"z":12e-5},{"x":0.019,"y":1.05,"z":12e-5},{"x":0.021,"y":1.05,"z":12e-5},{"x":0.023,"y":1.05,"z":12e-5},{"x":0.025,"y":1.05,"z":13e-5},{"x":0.027,"y":1.05,"z":13e-5},{"x":0.029,"y":1.05,"z":13e-5},{"x":0.031,"y":1.05,"z":13e-5},{"x":0.033,"y":1.05,"z":13e-5},{"x":0.035,"y":1.05,"z":13e-5},{"x":0.037,"y":1.05,"z":13e-5},{"x":0.039,"y":1.05,"z":13e-5},
{"x":0.001,"y":1.15,"z":2e-5},{"x":0.003,"y":1.15,"z":3e-5},{"x":0.005,"y":1.15,"z":5e-5},{"x":0.007,"y":1.15,"z":6e-5},{"x":0.009,"y":1.15,"z":7e-5},{"x":0.011,"y":1.15,"z":8e-5},{"x":0.013,"y":1.15,"z":8e-5},{"x":0.015,"y":1.15,"z":9e-5},{"x":0.017,"y":1.15,"z":9e-5},{"x":0.019,"y":1.15,"z":9e-5},{"x":0.021,"y":1.15,"z":9e-5},{"x":0.023,"y":1.15,"z":9e-5},{"x":0.025,"y":1.15,"z":10e-5},{"x":0.027,"y":1.15,"z":10e-5},{"x":0.029,"y":1.15,"z":10e-5},{"x":0.031,"y":1.15,"z":10e-5},{"x":0.033,"y":1.15,"z":10e-5},{"x":0.035,"y":1.15,"z":10e-5},{"x":0.037,"y":1.15,"z":10e-5},{"x":0.039,"y":1.15,"z":10e-5}
],
"d":[
{"x":0.001,"y":0.05,"z":0},{"x":0.003,"y":0.05,"z":0},{"x":0.005,"y":0.05,"z":0},{"x":0.007,"y":0.05,"z":0},{"x":0.009,"y":0.05,"z":0},{"x":0.011,"y":0.05,"z":0},{"x":0.013,"y":0.05,"z":0},{"x":0.015,"y":0.05,"z":0},{"x":0.017,"y":0.05,"z":1e-5},{"x":0.019,"y":0.05,"z":1e-5},{"x":0.021,"y":0.05,"z":1e-5},{"x":0.023,"y":0.05,"z":2e-5},{"x":0.025,"y":0.05,"z":2e-5},{"x":0.027,"y":0.05,"z":19e-5},{"x":0.029,"y":0.05,"z":25e-5},{"x":0.031,"y":0.05,"z":30e-5},{"x":0.033,"y":0.05,"z":37e-5},{"x":0.035,"y":0.05,"z":42e-5},{"x":0.037,"y":0.05,"z":50e-5},{"x":0.039,"y":0.05,"z":58e-5},
{"x":0.001,"y":0.15,"z":0},{"x":0.003,"y":0.15,"z":0},{"x":0.005,"y":0.15,"z":1e-5},{"x":0.007,"y":0.15,"z":1e-5},{"x":0.009,"y":0.15,"z":1e-5},{"x":0.011,"y":0.15,"z":1e-5},{"x":0.013,"y":0.15,"z":2e-5},{"x":0.015,"y":0.15,"z":2e-5},{"x":0.017,"y":0.15,"z":2e-5},{"x":0.019,"y":0.15,"z":3e-5},{"x":0.021,"y":0.15,"z":3e-5},{"x":0.023,"y":0.15,"z":5e-5},{"x":0.025,"y":0.15,"z":12e-5},{"x":0.027,"y":0.15,"z":20e-5},{"x":0.029,"y":0.15,"z":26e-5},{"x":0.031,"y":0.15,"z":31e-5},{"x":0.033,"y":0.15,"z":37e-5},{"x":0.035,"y":0.15,"z":43e-5},{"x":0.037,"y":0.15,"z":50e-5},{"x":0.039,"y":0.15,"z":58e-5},
{"x":0.001,"y":0.25,"z":0},{"x":0.003,"y":0.25,"z":1e-5},{"x":0.005,"y":0.25,"z":1e-5},{"x":0.007,"y":0.25,"z":2e-5},{"x":0.009,"y":0.25,"z":2e-5},{"x":0.011,"y":0.25,"z":3e-5},{"x":0.013,"y":0.25,"z":3e-5},{"x":0.015,"y":0.25,"z":4e-5},{"x":0.017,"y":0.25,"z":4e-5},{"x":0.019,"y":0.25,"z":5e-5},{"x":0.021,"y":0.25,"z":6e-5},{"x":0.023,"y":0.25,"z":8e-5},{"x":0.025,"y":0.25,"z":15e-5},{"x":0.027,"y":0.25,"z":21e-5},{"x":0.029,"y":0.25,"z":27e-5},{"x":0.031,"y":0.25,"z":32e-5},{"x":0.033,"y":0.25,"z":38e-5},{"x":0.035,"y":0.25,"z":44e-5},{"x":0.037,"y":0.25,"z":51e-5},{"x":0.039,"y":0.25,"z":58e-5},
{"x":0.001,"y":0.35,"z":1e-5},{"x":0.003,"y":0.35,"z":1e-5},{"x":0.005,"y":0.35,"z":2e-5},{"x":0.007,"y":0.35,"z":3e-5},{"x":0.009,"y":0.35,"z":3e-5},{"x":0.011,"y":0.35,"z":4e-5},{"x":0.013,"y":0.35,"z":5e-5},{"x":0.015,"y":0.35,"z":6e-5},{"x":0.017,"y":0.35,"z":7e-5},{"x":0.019,"y":0.35,"z":8e-5},{"x":0.021,"y":0.35,"z":9e-5},{"x":0.023,"y":0.35,"z":12e-5},{"x":0.025,"y":0.35,"z":17e-5},{"x":0.027,"y":0.35,"z":22e-5},{"x":0.029,"y":0.35,"z":27e-5},{"x":0.031,"y":0.35,"z":33e-5},{"x":0.033,"y":0.35,"z":39e-5},{"x":0.035,"y":0.35,"z":45e-5},{"x":0.037,"y":0.35,"z":51e-5},{"x":0.039,"y":0.35,"z":59e-5},
{"x":0.001,"y":0.45,"z":1e-5},{"x":0.003,"y":0.45,"z":2e-5},{"x":0.005,"y":0.45,"z":3e-5},{"x":0.007,"y":0.45,"z":3e-5},{"x":0.009,"y":0.45,"z":4e-5},{"x":0.011,"y":0.45,"z":5e-5},{"x":0.013,"y":0.45,"z":6e-5},{"x":0.015,"y":0.45,"z":7e-5},{"x":0.017,"y":0.45,"z":8e-5},{"x":0.019,"y":0.45,"z":9e-5},{"x":0.021,"y":0.45,"z":11e-5},{"x":0.023,"y":0.45,"z":14e-5},{"x":0.025,"y":0.45,"z":19e-5},{"x":0.027,"y":0.45,"z":24e-5},{"x":0.029,"y":0.45,"z":28e-5},{"x":0.031,"y":0.45,"z":33e-5},{"x":0.033,"y":0.45,"z":39e-5},{"x":0.035,"y":0.45,"z":45e-5},{"x":0.037,"y":0.45,"z":52e-5},{"x":0.039,"y":0.45,"z":59e-5},
{"x":0.001,"y":0.55,"z":1e-5},{"x":0.003,"y":0.55,"z":2e-5},{"x":0.005,"y":0.55,"z":3e-5},{"x":0.007,"y":0.55,"z":4e-5},{"x":0.009,"y":0.55,"z":5e-5},{"x":0.011,"y":0.55,"z":6e-5},{"x":0.013,"y":0.55,"z":7e-5},{"x":0.015,"y":0.55,"z":8e-5},{"x":0.017,"y":0.55,"z":9e-5},{"x":0.019,"y":0.55,"z":11e-5},{"x":0.021,"y":0.55,"z":13e-5},{"x":0.023,"y":0.55,"z":17e-5},{"x":0.025,"y":0.55,"z":21e-5},{"x":0.027,"y":0.55,"z":25e-5},{"x":0.029,"y":0.55,"z":29e-5},{"x":0.031,"y":0.55,"z":34e-5},{"x":0.033,"y":0.55,"z":40e-5},{"x":0.035,"y":0.55,"z":46e-5},{"x":0.037,"y":0.55,"z":52e-5},{"x":0.039,"y":0.55,"z":60e-5},
{"x":0.001,"y":0.65,"z":1e-5},{"x":0.003,"y":0.65,"z":2e-5},{"x":0.005,"y":0.65,"z":3e-5},{"x":0.007,"y":0.65,"z":4e-5},{"x":0.009,"y":0.65,"z":5e-5},{"x":0.011,"y":0.65,"z":6e-5},{"x":0.013,"y":0.65,"z":8e-5},{"x":0.015,"y":0.65,"z":9e-5},{"x":0.017,"y":0.65,"z":11e-5},{"x":0.019,"y":0.65,"z":13e-5},{"x":0.021,"y":0.65,"z":16e-5},{"x":0.023,"y":0.65,"z":20e-5},{"x":0.025,"y":0.65,"z":24e-5},{"x":0.027,"y":0.65,"z":27e-5},{"x":0.029,"y":0.65,"z":31e-5},{"x":0.031,"y":0.65,"z":36e-5},{"x":0.033,"y":0.65,"z":41e-5},{"x":0.035,"y":0.65,"z":47e-5},{"x":0.037,"y":0.65,"z":53e-5},{"x":0.039,"y":0.65,"z":61e-5},
{"x":0.001,"y":0.75,"z":1e-5},{"x":0.003,"y":0.75,"z":2e-5},{"x":0.005,"y":0.75,"z":3e-5},{"x":0.007,"y":0.75,"z":5e-5},{"x":0.009,"y":0.75,"z":6e-5},{"x":0.011,"y":0.75,"z":7e-5},{"x":0.013,"y":0.75,"z":8e-5},{"x":0.015,"y":0.75,"z":10e-5},{"x":0.017,"y":0.75,"z":12e-5},{"x":0.019,"y":0.75,"z":15e-5},{"x":0.021,"y":0.75,"z":19e-5},{"x":0.023,"y":0.75,"z":23e-5},{"x":0.025,"y":0.75,"z":26e-5},{"x":0.027,"y":0.75,"z":29e-5},{"x":0.029,"y":0.75,"z":33e-5},{"x":0.031,"y":0.75,"z":38e-5},{"x":0.033,"y":0.75,"z":43e-5},{"x":0.035,"y":0.75,"z":49e-5},{"x":0.037,"y":0.75,"z":56e-5},{"x":0.039,"y":0.75,"z":63e-5},
{"x":0.001,"y":0.85,"z":1e-5},{"x":0.003,"y":0.85,"z":2e-5},{"x":0.005,"y":0.85,"z":4e-5},{"x":0.007,"y":0.85,"z":5e-5},{"x":0.009,"y":0.85,"z":6e-5},{"x":0.011,"y":0.85,"z":8e-5},{"x":0.013,"y":0.85,"z":9e-5},{"x":0.015,"y":0.85,"z":11e-5},{"x":0.017,"y":0.85,"z":13e-5},{"x":0.019,"y":0.85,"z":17e-5},{"x":0.021,"y":0.85,"z":21e-5},{"x":0.023,"y":0.85,"z":25e-5},{"x":0.025,"y":0.85,"z":28e-5},{"x":0.027,"y":0.85,"z":31e-5},{"x":0.029,"y":0.85,"z":35e-5},{"x":0.031,"y":0.85,"z":40e-5},{"x":0.033,"y":0.85,"z":45e-5},{"x":0.035,"y":0.85,"z":52e-5},{"x":0.037,"y":0.85,"z":60e-5},{"x":0.039,"y":0.85,"z":67e-5},
{"x":0.001,"y":0.95,"z":1e-5},{"x":0.003,"y":0.95,"z":3e-5},{"x":0.005,"y":0.95,"z":4e-5},{"x":0.007,"y":0.95,"z":6e-5},{"x":0.009,"y":0.95,"z":7e-5},{"x":0.011,"y":0.95,"z":8e-5},{"x":0.013,"y":0.95,"z":10e-5},{"x":0.015,"y":0.95,"z":12e-5},{"x":0.017,"y":0.95,"z":15e-5},{"x":0.019,"y":0.95,"z":18e-5},{"x":0.021,"y":0.95,"z":22e-5},{"x":0.023,"y":0.95,"z":26e-5},{"x":0.025,"y":0.95,"z":29e-5},{"x":0.027,"y":0.95,"z":33e-5},{"x":0.029,"y":0.95,"z":37e-5},{"x":0.031,"y":0.95,"z":41e-5},{"x":0.033,"y":0.95,"z":47e-5},{"x":0.035,"y":0.95,"z":55e-5},{"x":0.037,"y":0.95,"z":63e-5},{"x":0.039,"y":0.95,"z":70e-5},
{"x":0.001,"y":1.05,"z":1e-5},{"x":0.003,"y":1.05,"z":3e-5},{"x":0.005,"y":1.05,"z":5e-5},{"x":0.007,"y":1.05,"z":6e-5},{"x":0.009,"y":1.05,"z":8e-5},{"x":0.011,"y":1.05,"z":9e-5},{"x":0.013,"y":1.05,"z":11e-5},{"x":0.015,"y":1.05,"z":13e-5},{"x":0.017,"y":1.05,"z":16e-5},{"x":0.019,"y":1.05,"z":20e-5},{"x":0.021,"y":1.05,"z":24e-5},{"x":0.023,"y":1.05,"z":27e-5},{"x":0.025,"y":1.05,"z":30e-5},{"x":0.027,"y":1.05,"z":34e-5},{"x":0.029,"y":1.05,"z":38e-5},{"x":0.031,"y":1.05,"z":42e-5},{"x":0.033,"y":1.05,"z":49e-5},{"x":0.035,"y":1.05,"z":57e-5},{"x":0.037,"y":1.05,"z":65e-5},{"x":0.039,"y":1.05,"z":72e-5},
{"x":0.001,"y":1.15,"z":1e-5},{"x":0.003,"y":1.15,"z":3e-5},{"x":0.005,"y":1.15,"z":5e-5},{"x":0.007,"y":1.15,"z":7e-5},{"x":0.009,"y":1.15,"z":8e-5},{"x":0.011,"y":1.15,"z":10e-5},{"x":0.013,"y":1.15,"z":12e-5},{"x":0.015,"y":1.15,"z":14e-5},{"x":0.017,"y":1.15,"z":17e-5},{"x":0.019,"y":1.15,"z":21e-5},{"x":0.021,"y":1.15,"z":25e-5},{"x":0.023,"y":1.15,"z":28e-5},{"x":0.025,"y":1.15,"z":31e-5},{"x":0.027,"y":1.15,"z":35e-5},{"x":0.029,"y":1.15,"z":38e-5},{"x":0.031,"y":1.15,"z":43e-5},{"x":0.033,"y":1.15,"z":50e-5},{"x":0.035,"y":1.15,"z":58e-5},{"x":0.037,"y":1.15,"z":67e-5},{"x":0.039,"y":1.15,"z":74e-5}
]},
"vconcat":[
{"spacing":33,"resolve":{"scale":{"color":"independent"},"legend":{"color":"independent"}},"hconcat":[
{"title":"(a) Kinetic, Γ/k₀","width":187,"height":172,"data":{"name":"a"},"mark":{"type":"rect","width":10,"height":15,"clip":true},"encoding":{"x":{"field":"x","type":"quantitative","scale":{"domain":[0,0.0398],"nice":false},"axis":{"values":[0,0.01,0.02,0.03],"format":".2f","title":"|kₛ|/k₀","labelPadding":3,"titlePadding":3}},"y":{"field":"y","type":"quantitative","scale":{"domain":[0,1.2],"nice":false},"axis":{"values":[0,0.2,0.4,0.6,0.8,1,1.2],"format":".1f","title":"vϕ/cₛ","labelPadding":3,"titlePadding":4}},"color":{"field":"z","type":"quantitative","scale":{"domain":[0,4.5e-5,9e-5,11.25e-5,13.5e-5,18e-5,22.5e-5,27e-5,31.5e-5,36e-5,40.5e-5,45e-5],"range":["#fdfafa","#e0c8bc","#c4a170","#bba564","#b5b35e","#8aaa55","#4a9a4c","#3f8f60","#327f7f","#225f88","#0d2c7c","#000030"],"clamp":true},"legend":{"type":"gradient","values":[0,2e-4,4e-4],"gradientLength":172,"gradientThickness":10,"title":null,"offset":13,"labelOffset":2,"labelExpr":"replace(replace(format(datum.value,'.0e'),'e-4','e-04'),'e+0','e+00')","encode":{"labels":{"update":{"baseline":{"value":"middle"}}}}}}}},
{"title":"(b) Kinetic, ℜ(kₛₓ/k₀)","width":187,"height":172,"data":{"name":"b"},"mark":{"type":"rect","width":10,"height":15,"clip":true},"encoding":{"x":{"field":"x","type":"quantitative","scale":{"domain":[0,0.0398],"nice":false},"axis":{"values":[0,0.01,0.02,0.03],"format":".2f","title":"|kₛ|/k₀","labelPadding":3,"titlePadding":3}},"y":{"field":"y","type":"quantitative","scale":{"domain":[0,1.2],"nice":false},"axis":{"values":[0,0.2,0.4,0.6,0.8,1,1.2],"format":".1f","title":"vϕ/cₛ","labelPadding":3,"titlePadding":4}},"color":{"condition":{"test":"datum.z>8e-4","value":"#000000"},"field":"z","type":"quantitative","scale":{"domain":[0,8e-5,16e-5,20e-5,24e-5,32e-5,40e-5,48e-5,56e-5,64e-5,72e-5,80e-5],"range":["#fdfafa","#e0c8bc","#c4a170","#bba564","#b5b35e","#8aaa55","#4a9a4c","#3f8f60","#327f7f","#225f88","#0d2c7c","#000030"],"clamp":true},"legend":{"type":"gradient","values":[0,2e-4,4e-4,6e-4,8e-4],"gradientLength":172,"gradientThickness":10,"title":null,"offset":13,"labelOffset":2,"labelExpr":"replace(replace(format(datum.value,'.0e'),'e-4','e-04'),'e+0','e+00')","encode":{"labels":{"update":{"baseline":{"value":"middle"}}}}}}}}
]},
{"spacing":33,"resolve":{"scale":{"color":"independent"},"legend":{"color":"independent"}},"hconcat":[
{"title":"(c) Fluid, Γ/k₀","width":187,"height":172,"data":{"name":"c"},"mark":{"type":"rect","width":10,"height":15,"clip":true},"encoding":{"x":{"field":"x","type":"quantitative","scale":{"domain":[0,0.0398],"nice":false},"axis":{"values":[0,0.01,0.02,0.03],"format":".2f","title":"|kₛ|/k₀","labelPadding":3,"titlePadding":3}},"y":{"field":"y","type":"quantitative","scale":{"domain":[0,1.2],"nice":false},"axis":{"values":[0,0.2,0.4,0.6,0.8,1,1.2],"format":".1f","title":"vϕ/cₛ","labelPadding":3,"titlePadding":4}},"color":{"field":"z","type":"quantitative","scale":{"domain":[0,4.5e-5,9e-5,11.25e-5,13.5e-5,18e-5,22.5e-5,27e-5,31.5e-5,36e-5,40.5e-5,45e-5],"range":["#fdfafa","#e0c8bc","#c4a170","#bba564","#b5b35e","#8aaa55","#4a9a4c","#3f8f60","#327f7f","#225f88","#0d2c7c","#000030"],"clamp":true},"legend":{"type":"gradient","values":[0,2e-4,4e-4],"gradientLength":172,"gradientThickness":10,"title":null,"offset":13,"labelOffset":2,"labelExpr":"replace(replace(format(datum.value,'.0e'),'e-4','e-04'),'e+0','e+00')","encode":{"labels":{"update":{"baseline":{"value":"middle"}}}}}}}},
{"title":"(d) Fluid, ℜ(kₛₓ/k₀)","width":187,"height":172,"data":{"name":"d"},"mark":{"type":"rect","width":10,"height":15,"clip":true},"encoding":{"x":{"field":"x","type":"quantitative","scale":{"domain":[0,0.0398],"nice":false},"axis":{"values":[0,0.01,0.02,0.03],"format":".2f","title":"|kₛ|/k₀","labelPadding":3,"titlePadding":3}},"y":{"field":"y","type":"quantitative","scale":{"domain":[0,1.2],"nice":false},"axis":{"values":[0,0.2,0.4,0.6,0.8,1,1.2],"format":".1f","title":"vϕ/cₛ","labelPadding":3,"titlePadding":4}},"color":{"field":"z","type":"quantitative","scale":{"domain":[0,8e-5,16e-5,20e-5,24e-5,32e-5,40e-5,48e-5,56e-5,64e-5,72e-5,80e-5],"range":["#fdfafa","#e0c8bc","#c4a170","#bba564","#b5b35e","#8aaa55","#4a9a4c","#3f8f60","#327f7f","#225f88","#0d2c7c","#000030"],"clamp":true},"legend":{"type":"gradient","values":[0,2e-4,4e-4,6e-4,8e-4],"gradientLength":172,"gradientThickness":10,"title":null,"offset":13,"labelOffset":2,"labelExpr":"replace(replace(format(datum.value,'.0e'),'e-4','e-04'),'e+0','e+00')","encode":{"labels":{"update":{"baseline":{"value":"middle"}}}}}}}}
]}
]}
